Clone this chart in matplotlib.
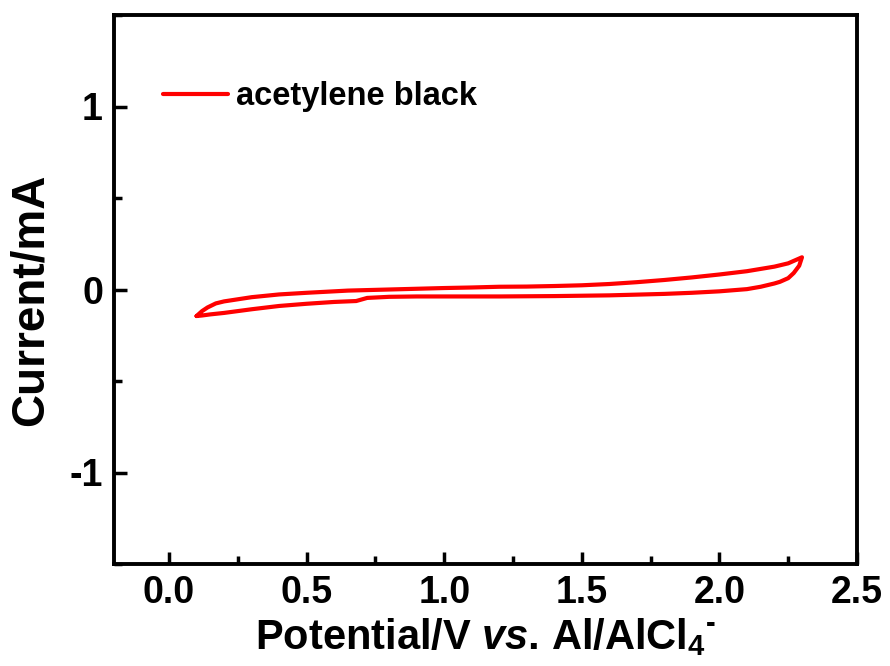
import matplotlib
matplotlib.use("Agg")
import matplotlib.pyplot as plt
from matplotlib.ticker import MultipleLocator

# ---- data ----
fwd_E = [0.10, 0.12, 0.14, 0.17, 0.20, 0.30, 0.40, 0.50, 0.65, 0.80, 0.90, 1.00,
         1.10, 1.20, 1.30, 1.40, 1.50, 1.60, 1.70, 1.80, 1.90, 2.00, 2.10, 2.20,
         2.25, 2.30]
fwd_I = [-0.145, -0.118, -0.098, -0.076, -0.065, -0.042, -0.027, -0.018, -0.006, 0.000,
         0.004, 0.008, 0.011, 0.015, 0.016, 0.019, 0.023, 0.030, 0.040, 0.052,
         0.066, 0.082, 0.100, 0.125, 0.143, 0.176]
rev_E = [2.30, 2.29, 2.27, 2.25, 2.22, 2.20, 2.15, 2.10, 2.00, 1.90, 1.80, 1.70,
         1.60, 1.50, 1.40, 1.30, 1.20, 1.10, 1.00, 0.90, 0.80, 0.72, 0.68, 0.60,
         0.50, 0.40, 0.30, 0.20, 0.15, 0.12, 0.10]
rev_I = [0.176, 0.130, 0.090, 0.062, 0.042, 0.033, 0.015, 0.002, -0.010, -0.018,
         -0.024, -0.028, -0.032, -0.034, -0.036, -0.037, -0.038, -0.038, -0.038, -0.038,
         -0.040, -0.046, -0.063, -0.068, -0.078, -0.090, -0.108, -0.128, -0.136, -0.142,
         -0.145]
E = fwd_E + rev_E
I = fwd_I + rev_I
series_label = "acetylene black"
xticks = [0.0, 0.5, 1.0, 1.5, 2.0, 2.5]
yticks = [-1, 0, 1]

plt.rcParams['font.family'] = ['Liberation Sans', 'DejaVu Sans']
plt.rcParams['font.weight'] = 'bold'
plt.rcParams['mathtext.fontset'] = 'custom'
plt.rcParams['mathtext.rm'] = 'Liberation Sans:bold'
plt.rcParams['mathtext.it'] = 'Liberation Sans:italic:bold'
plt.rcParams['mathtext.bf'] = 'Liberation Sans:bold'

fig = plt.figure(figsize=(8.9, 6.66), dpi=100)
ax = fig.add_axes([114/890, 1 - 564/666, (857-114)/890, (564-15)/666])

ax.plot(E, I, color='#ff0000', lw=3.0, solid_joinstyle='round', solid_capstyle='round',
        label=series_label)

ax.set_xlim(-0.2, 2.5)
ax.set_ylim(-1.5, 1.5)
ax.set_xticks(xticks)
ax.set_xticklabels([f"{v:.1f}" for v in xticks])
ax.set_yticks(yticks)
ax.set_yticklabels([str(v) for v in yticks])
ax.xaxis.set_minor_locator(MultipleLocator(0.25))
ax.yaxis.set_minor_locator(MultipleLocator(0.5))

for s in ax.spines.values():
    s.set_linewidth(2.8)
ax.tick_params(which='both', direction='in', top=False, right=False, width=2.5)
ax.tick_params(which='major', length=9, labelsize=27, pad=8)
ax.tick_params(which='minor', length=5.5)
for lab in ax.get_xticklabels() + ax.get_yticklabels():
    lab.set_fontweight('bold')

ax.set_xlabel(r"Potential/V $\mathit{vs}$. Al/AlCl$_\mathrm{4}{}^\mathrm{\text{-}}$",
              fontsize=30, fontweight='bold', labelpad=4)
ax.set_ylabel("Current/mA", fontsize=33, fontweight='bold')
ax.yaxis.set_label_coords(-0.083, 0.482)

leg = ax.legend(loc='upper left', bbox_to_anchor=(0.066, 0.879), frameon=False,
                fontsize=23.5, handlelength=2.0, handletextpad=0.25, borderpad=0,
                borderaxespad=0)
for t in leg.get_texts():
    t.set_fontweight('bold')

fig.savefig("out.png", dpi=100)
